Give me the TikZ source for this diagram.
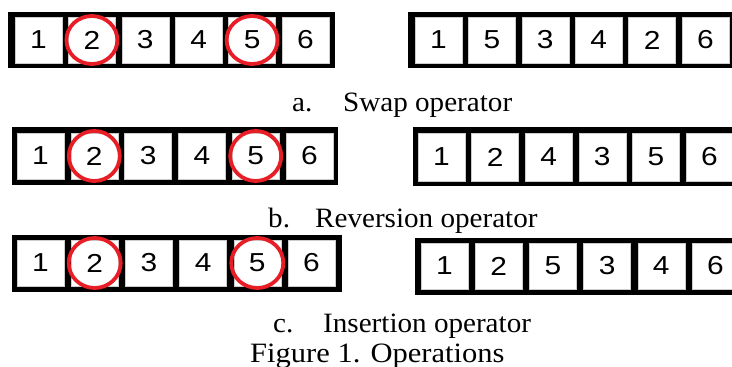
\documentclass[tikz,border=0pt]{standalone}
\usepackage{fontspec}
\usepackage{graphicx}
\setmainfont{Liberation Serif}
\newfontfamily\digitfont{Liberation Sans}
\definecolor{ringred}{RGB}{232,30,38}
\tikzset{
  cellbox/.style={rectangle, fill=white, draw=white!80!black, line width=0.6pt,
    minimum width=47pt, minimum height=46pt, inner sep=0pt,
    font=\digitfont\fontsize{26}{30}\selectfont},
  frame/.style={fill=black},
  ring/.style={draw=ringred, line width=3.8pt},
  caption/.style={anchor=base west, inner sep=0pt, font=\fontsize{28}{32}\selectfont}
}
\newcommand{\mydg}[1]{\scalebox{1.15}[1]{#1}}
\newcommand{\mywd}[1]{\scalebox{1.04}[1]{#1}}
\begin{document}
\begin{tikzpicture}[x=1pt,y=-1pt]
\useasboundingbox (0,0) rectangle (732,367);
% ---- row a ----
\fill[frame] (8,12) rectangle (335,68);
\foreach \d [count=\i] in {1,2,3,4,5,6}
  \node[cellbox] (aL\i) at ({15+23.5+(\i-1)*53.4},40) {\mydg{\d}};
\fill[frame] (408,12) rectangle (745,68);
\foreach \d [count=\i] in {1,5,3,4,2,6}
  \node[cellbox] (aR\i) at ({415+23.5+(\i-1)*53.4},40) {\mydg{\d}};
\draw[ring] (aL2.center) ellipse [x radius=25.5, y radius=24];
\draw[ring] (aL5.center) ellipse [x radius=25.5, y radius=24];
\node[caption] (capa) at (292,111) {\mywd{a.}};
\node[caption] (capat) at (343,111) {\mywd{Swap operator}};
% ---- row b ----
\fill[frame] (12,127) rectangle (338,185);
\foreach \d [count=\i] in {1,2,3,4,5,6}
  \node[cellbox] (bL\i) at ({17+23.5+(\i-1)*53.8},156) {\mydg{\d}};
\fill[frame] (413,127) rectangle (745,186);
\foreach \d [count=\i] in {1,2,4,3,5,6}
  \node[cellbox, minimum height=48pt] (bR\i) at ({418+23.5+(\i-1)*53.6},157) {\mydg{\d}};
\draw[ring] (bL2.center) ellipse [x radius=25.5, y radius=25];
\draw[ring] (bL5.center) ellipse [x radius=25.5, y radius=25];
\node[caption] (capb) at (268,227) {\mywd{b.}};
\node[caption] (capbt) at (315,227) {\mywd{Reversion operator}};
% ---- row c ----
\fill[frame] (12,235) rectangle (342,292);
\foreach \d [count=\i] in {1,2,3,4,5,6}
  \node[cellbox] (cL\i) at ({17+23.5+(\i-1)*54.2},263) {\mydg{\d}};
\fill[frame] (415,238) rectangle (745,295);
\foreach \d [count=\i] in {1,2,5,3,4,6}
  \node[cellbox] (cR\i) at ({421+23.5+(\i-1)*54.2},266) {\mydg{\d}};
\draw[ring] (cL2.center) ellipse [x radius=26, y radius=25];
\draw[ring] (cL5.center) ellipse [x radius=26, y radius=25];
\node[caption] (capc) at (273,332) {\mywd{c.}};
\node[caption] (capct) at (323,332) {\mywd{Insertion operator}};
% ---- figure caption ----
\node[caption] (fig) at (250,362) {\scalebox{1.09}[1]{Figure 1. Operations}};
\end{tikzpicture}
\end{document}
